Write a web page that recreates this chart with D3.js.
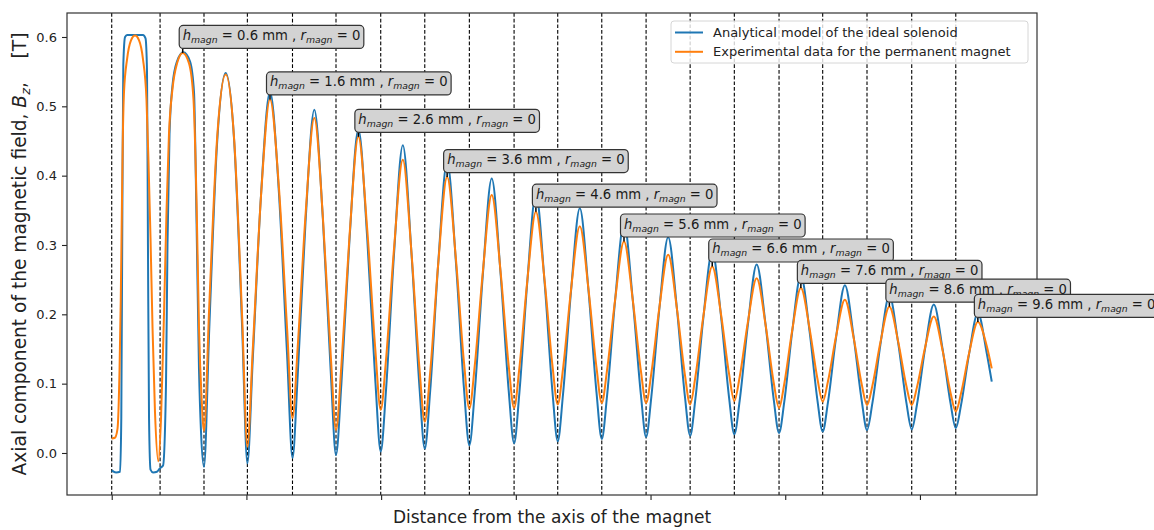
<!DOCTYPE html>
<html><head><meta charset="utf-8">
<script src="https://cdn.jsdelivr.net/npm/d3@7"></script>
<style>
body{margin:0;background:#fff}
svg text{font-family:"DejaVu Sans",sans-serif}
</style></head>
<body><svg id="chart" width="1154" height="530"></svg>
<script>
// ---------------- data ----------------
const dashedX = [0.000, 0.359, 0.685, 1.007, 1.342, 1.665, 1.997, 2.324, 2.655, 2.987,
                 3.311, 3.638, 3.967, 4.294, 4.622, 4.954, 5.278, 5.607, 5.939, 6.266];
const xTicks = [0, 1, 2, 3, 4, 5, 6];
const yTicks = [0.0, 0.1, 0.2, 0.3, 0.4, 0.5, 0.6];

// first two magnets (shapes differ between series)
const blueLeadX = [0.000, 0.032, 0.062, 0.071, 0.079, 0.086, 0.099, 0.114, 0.232, 0.251, 0.262, 0.269, 0.277, 0.288, 0.307, 0.336,
                   0.359, 0.381, 0.403, 0.414, 0.429, 0.451, 0.485, 0.532, 0.581, 0.611, 0.630, 0.648, 0.663];
const blueLeadY = [-0.025, -0.028, -0.027, 0.05, 0.35, 0.56, 0.600, 0.603, 0.603, 0.598, 0.55, 0.30, 0.05, -0.024, -0.028, -0.027,
                   -0.022, -0.018, 0.10, 0.30, 0.46, 0.53, 0.565, 0.578, 0.565, 0.52, 0.33, 0.12, 0.03];
const orangeLeadX = [0.000, 0.024, 0.043, 0.058, 0.067, 0.074, 0.082, 0.091, 0.114, 0.143, 0.173, 0.203, 0.232, 0.258, 0.273, 0.288, 0.303, 0.321,
                     0.346, 0.366, 0.388, 0.407, 0.425, 0.451, 0.485, 0.527, 0.574, 0.607, 0.630, 0.648, 0.667];
const orangeLeadY = [0.021, 0.022, 0.035, 0.12, 0.22, 0.33, 0.45, 0.52, 0.568, 0.595, 0.602, 0.595, 0.568, 0.51, 0.42, 0.31, 0.18, 0.06,
                     -0.012, 0.05, 0.20, 0.35, 0.46, 0.525, 0.562, 0.577, 0.562, 0.51, 0.36, 0.18, 0.08];

// remaining magnets: shared sample positions
const restX = [
 0.685, 0.724, 0.782, 0.846, 0.910, 0.968,
 1.007, 1.047, 1.108, 1.175, 1.242, 1.302,
 1.342, 1.381, 1.439, 1.504, 1.568, 1.626,
 1.665, 1.705, 1.765, 1.831, 1.897, 1.957,
 1.997, 2.036, 2.095, 2.161, 2.226, 2.285,
 2.324, 2.364, 2.423, 2.490, 2.556, 2.615,
 2.655, 2.695, 2.755, 2.821, 2.887, 2.947,
 2.987, 3.026, 3.084, 3.149, 3.214, 3.272,
 3.311, 3.350, 3.409, 3.475, 3.540, 3.599,
 3.638, 3.677, 3.737, 3.803, 3.868, 3.928,
 3.967, 4.006, 4.065, 4.131, 4.196, 4.255,
 4.294, 4.333, 4.392, 4.458, 4.524, 4.583,
 4.622, 4.662, 4.722, 4.788, 4.854, 4.914,
 4.954, 4.993, 5.051, 5.116, 5.181, 5.239,
 5.278, 5.317, 5.377, 5.443, 5.508, 5.568,
 5.607, 5.647, 5.707, 5.773, 5.839, 5.899,
 5.939, 5.978, 6.037, 6.103, 6.168, 6.227,
 6.266, 6.305, 6.364, 6.430, 6.495, 6.533];
const blueRestY = [
 -0.020, 0.179, 0.446, 0.548, 0.447, 0.182,
 -0.015, 0.135, 0.371, 0.521, 0.373, 0.141,
 -0.007, 0.113, 0.334, 0.495, 0.336, 0.117,
 -0.003, 0.100, 0.307, 0.467, 0.309, 0.104,
 0.002, 0.090, 0.285, 0.444, 0.286, 0.094,
 0.006, 0.089, 0.271, 0.420, 0.273, 0.093,
 0.011, 0.088, 0.257, 0.396, 0.258, 0.090,
 0.014, 0.086, 0.244, 0.374, 0.245, 0.088,
 0.017, 0.084, 0.232, 0.353, 0.233, 0.087,
 0.020, 0.082, 0.220, 0.332, 0.221, 0.085,
 0.023, 0.081, 0.207, 0.311, 0.208, 0.082,
 0.025, 0.078, 0.195, 0.291, 0.196, 0.080,
 0.027, 0.076, 0.184, 0.272, 0.185, 0.078,
 0.029, 0.074, 0.174, 0.256, 0.175, 0.076,
 0.031, 0.073, 0.166, 0.242, 0.167, 0.075,
 0.033, 0.072, 0.157, 0.227, 0.158, 0.073,
 0.034, 0.070, 0.149, 0.214, 0.150, 0.072,
 0.036, 0.069, 0.142, 0.202, 0.145, 0.103];
const orangeRestY = [
 0.032, 0.212, 0.453, 0.546, 0.449, 0.197,
 0.009, 0.149, 0.370, 0.510, 0.381, 0.179,
 0.050, 0.154, 0.344, 0.483, 0.339, 0.141,
 0.033, 0.126, 0.312, 0.456, 0.322, 0.149,
 0.062, 0.134, 0.293, 0.423, 0.287, 0.121,
 0.045, 0.116, 0.271, 0.398, 0.278, 0.131,
 0.064, 0.126, 0.261, 0.372, 0.261, 0.126,
 0.065, 0.122, 0.246, 0.348, 0.248, 0.126,
 0.070, 0.121, 0.234, 0.327, 0.235, 0.123,
 0.072, 0.119, 0.221, 0.305, 0.221, 0.119,
 0.072, 0.115, 0.209, 0.286, 0.208, 0.113,
 0.070, 0.110, 0.197, 0.269, 0.199, 0.114,
 0.075, 0.110, 0.188, 0.252, 0.185, 0.102,
 0.065, 0.100, 0.176, 0.238, 0.179, 0.107,
 0.074, 0.103, 0.168, 0.221, 0.166, 0.099,
 0.069, 0.097, 0.160, 0.211, 0.160, 0.097,
 0.069, 0.095, 0.151, 0.197, 0.148, 0.087,
 0.060, 0.086, 0.143, 0.189, 0.155, 0.122];

const annotH = [0.6, 1.6, 2.6, 3.6, 4.6, 5.6, 6.6, 7.6, 8.6, 9.6];
const annotX = [0.527, 1.175, 1.831, 2.490, 3.149, 3.803, 4.458, 5.116, 5.773, 6.430];
const annotY = [0.577, 0.510, 0.456, 0.398, 0.348, 0.305, 0.269, 0.238, 0.211, 0.189];

const seriesNames = ["Analytical model of the ideal solenoid", "Experimental data for the permanent magnet"];
const seriesColors = ["#1f77b4", "#ff7f0e"];

// ---------------- chart ----------------
const svg = d3.select('#chart');
const M = {left: 67, right: 1037, top: 13, bottom: 495};
const x = d3.scaleLinear().domain([-0.332, 6.869]).range([M.left, M.right]);
const y = d3.scaleLinear().domain([-0.0606, 0.6346]).range([M.bottom, M.top]);

// dashed magnet boundaries
svg.append('g').selectAll('line').data(dashedX).join('line')
  .attr('x1', d => x(d)).attr('x2', d => x(d))
  .attr('y1', M.top).attr('y2', M.bottom)
  .attr('stroke', '#000').attr('stroke-width', 1.1).attr('stroke-dasharray', '3.7,2');

const blueData = blueLeadX.map((v, i) => [v, blueLeadY[i]]).concat(restX.map((v, i) => [v, blueRestY[i]]));
const orangeData = orangeLeadX.map((v, i) => [v, orangeLeadY[i]]).concat(restX.map((v, i) => [v, orangeRestY[i]]));
const line = d3.line().x(d => x(d[0])).y(d => y(d[1])).curve(d3.curveMonotoneX);

svg.append('path').datum(blueData).attr('d', line)
  .attr('fill', 'none').attr('stroke', seriesColors[0]).attr('stroke-width', 2).attr('stroke-linejoin', 'round');
svg.append('path').datum(orangeData).attr('d', line)
  .attr('fill', 'none').attr('stroke', seriesColors[1]).attr('stroke-width', 2).attr('stroke-linejoin', 'round');

// axes
const xAxis = d3.axisBottom(x).tickValues(xTicks).tickFormat('').tickSize(5).tickSizeOuter(0);
const gx = svg.append('g').attr('transform', `translate(0,${M.bottom})`).call(xAxis);
gx.select('.domain').remove();
gx.selectAll('line').attr('stroke', '#222').attr('stroke-width', 1.1);

const yAxis = d3.axisLeft(y).tickValues(yTicks).tickFormat(d3.format('.1f')).tickSize(5).tickPadding(5).tickSizeOuter(0);
const gy = svg.append('g').attr('transform', `translate(${M.left},0)`).call(yAxis);
gy.select('.domain').remove();
gy.selectAll('line').attr('stroke', '#222').attr('stroke-width', 1.1);
gy.selectAll('text').attr('font-size', 13).attr('fill', '#222').style('font-family', '"DejaVu Sans", sans-serif');

// frame
svg.append('rect').attr('x', M.left).attr('y', M.top)
  .attr('width', M.right - M.left).attr('height', M.bottom - M.top)
  .attr('fill', 'none').attr('stroke', '#333').attr('stroke-width', 1.2);

// legend
const lg = svg.append('g');
lg.append('rect').attr('x', 671).attr('y', 21).attr('width', 357).attr('height', 42).attr('rx', 3)
  .attr('fill', '#fff').attr('fill-opacity', 0.8).attr('stroke', '#d6d6d6').attr('stroke-width', 1);
seriesNames.forEach((name, i) => {
  const yy = 32.5 + i * 19.3;
  lg.append('line').attr('x1', 675).attr('x2', 703).attr('y1', yy).attr('y2', yy)
    .attr('stroke', seriesColors[i]).attr('stroke-width', 2);
  lg.append('text').attr('x', 713).attr('y', yy + 4.6).attr('font-size', 13).attr('fill', '#222').text(name);
});

// annotations
const ag = svg.append('g');
annotH.forEach((h, i) => {
  const px = x(annotX[i]), py = y(annotY[i]);
  const bx = px - 3.5, bBottom = py - 4.5, bh = 23, pad = 3.5;
  const g = ag.append('g');
  g.append('line').attr('x1', px).attr('x2', px).attr('y1', py).attr('y2', bBottom)
    .attr('stroke', '#000').attr('stroke-width', 1.5);
  const rect = g.append('rect').attr('x', bx).attr('y', bBottom - bh).attr('height', bh).attr('rx', 4)
    .attr('fill', '#d3d3d3').attr('stroke', '#333').attr('stroke-width', 1.2);
  const t = g.append('text').attr('x', bx + pad).attr('y', bBottom - 8.5).attr('font-size', 13.2).attr('fill', '#1a1a1a')
    .style('white-space', 'pre');
  t.append('tspan').attr('font-style', 'italic').text('h');
  t.append('tspan').attr('font-style', 'italic').attr('font-size', 9.3).attr('dy', 3).text('magn');
  t.append('tspan').attr('dy', -3).text(' = ' + h.toFixed(1) + ' mm , ');
  t.append('tspan').attr('font-style', 'italic').text('r');
  t.append('tspan').attr('font-style', 'italic').attr('font-size', 9.3).attr('dy', 3).text('magn');
  t.append('tspan').attr('dy', -3).text(' = 0');
  const w = t.node().getComputedTextLength();
  rect.attr('width', w + 2 * pad);
});

// axis labels
svg.append('text').attr('x', (M.left + M.right) / 2).attr('y', 523)
  .attr('text-anchor', 'middle').attr('font-size', 17).attr('fill', '#222')
  .text('Distance from the axis of the magnet');

const yl = svg.append('text').attr('transform', `translate(26,${(M.top + M.bottom) / 2}) rotate(-90)`)
  .attr('text-anchor', 'middle').attr('font-size', 18.6).attr('fill', '#222').style('white-space', 'pre');
yl.append('tspan').text('Axial component of the magnetic field, ');
yl.append('tspan').attr('font-style', 'italic').text('B');
yl.append('tspan').attr('font-style', 'italic').attr('font-size', 13).attr('dy', 4).text('z');
yl.append('tspan').attr('dy', -4).text(',    [T]');
</script>
</body></html>
